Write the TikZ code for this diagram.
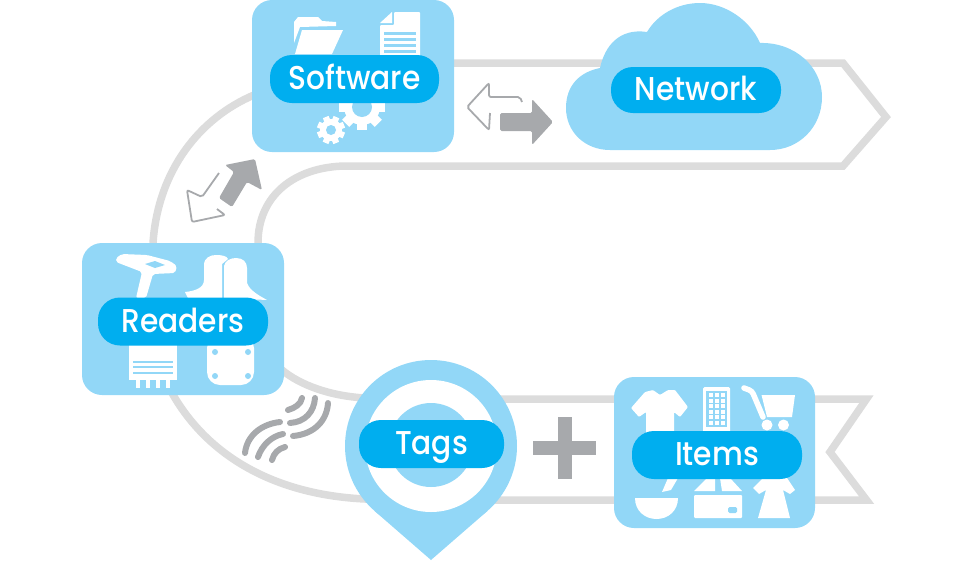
\documentclass[tikz,border=0pt]{standalone}
\usepackage{fontspec}
\setmainfont{Poppins Medium}[FakeStretch=0.9]
\definecolor{boxblue}{HTML}{92D7F7}
\definecolor{pillblue}{HTML}{00AEEF}
\definecolor{ribbongray}{HTML}{DCDCDC}
\definecolor{arrowgray}{HTML}{A7A9AC}
\tikzset{
	ribbon/.style={draw=ribbongray,line width=7.5pt,miter limit=10},
	iconbox/.style={fill=boxblue,rounded corners=20pt,minimum width=202pt,minimum height=152pt,inner sep=0pt},
	pill/.style={fill=pillblue,text=white,rounded corners=22pt,minimum height=48pt,inner sep=0pt,text height=24pt,text depth=3pt,font=\fontsize{33}{33}\selectfont},
	icon/.style={fill=white},
	cutout/.style={fill=boxblue},
	solidarrow/.style={fill=arrowgray,rounded corners=1.5pt},
	openarrow/.style={draw=arrowgray,line width=1.8pt,rounded corners=2pt},
	wavearc/.style={draw=arrowgray,line width=6pt,line cap=round}
}
\newcommand{\gearicon}[5]{%
	\foreach \a in {0,45,...,315}
		\fill[icon,rotate around={\a+#5:(#1,#2)}] (#1-#3*0.22,#2) rectangle (#1+#3*0.22,#2-#3);
	\fill[icon] (#1,#2) circle(#3*0.78);
	\fill[cutout] (#1,#2) circle(#4);
}
\begin{document}
\begin{tikzpicture}[x=1pt,y=-1pt]
	\useasboundingbox (0,0) rectangle (980,560);
	
	\draw[ribbon] (153,243) .. controls (158,170) and (200,118) .. (254,95)--(300,63)--(843,63)--(886,117)--(843,166)--(345,166) .. controls (295,167) and (258,195) .. (258,243);
	\draw[ribbon] (282,370) .. controls (300,385) and (330,396) .. (365,398)--(400,399)--(866.5,399)--(830,452)--(866.5,500)--(400,500)--(365,499) .. controls (280,495) and (210,460) .. (172,393);
	
	\node[iconbox] (softwarebox) at (353,76) {};
	\fill[icon] (294,43)--(294,22)--(298,17)--(318,17)--(322,21)--(336,22)--(336,26)--(300,27)--cycle;
	\fill[icon] (302,30)--(343,30)--(332,54)--(295,54)--cycle;
	\fill[icon] (380,23)--(392,23)--(392,12)--cycle;
	\fill[icon,rounded corners=1pt] (394,12)--(420,12)--(420,56)--(380,56)--(380,25)--(394,25)--cycle;
	\foreach \y in {32,38,44,50}
		\fill[cutout] (384,\y) rectangle (416,\y+3);
	\gearicon{362}{107}{23}{10}{0}
	\gearicon{331}{130}{14}{5}{22}
	
	\node[iconbox] (readersbox) at (183,319) {};
	\fill[icon,rounded corners=2pt] (116,258)--(122,254)--(147,255)--(170,261)--(177,266)--(175,273)--(153,274)--(146,298)--(136,298)--(142,272)--(116,262)--cycle;
	\fill[cutout] (145,264)--(155,261)--(165,265)--(155,268)--cycle;
	\fill[icon] (185,292) .. controls (195,291) and (204,288) .. (204,280)--(204,265) .. controls (204,258) and (210,255) .. (216,255) .. controls (222,255) and (227,256) .. (228,259)--(222,264)--(222,298)--(188,298)--cycle;
	\fill[icon] (224,298)--(224,266) .. controls (225,261) and (230,258) .. (236,258) .. controls (243,258) and (247,262) .. (247,268)--(247,283) .. controls (250,291) and (260,296) .. (267,300)--cycle;
	\fill[icon] (129,340) rectangle (177,380);
	\foreach \x in {138,148,158,168}
		\fill[icon] (\x-2,380) rectangle (\x+2,388);
	\foreach \y in {362,367,373}
		\fill[cutout] (133,\y-0.8) rectangle (173,\y+0.8);
	\fill[icon,rounded corners=13pt] (207,335) rectangle (254,385);
	\foreach \x/\y in {215/352,248/352,215/376,248/376}
		\fill[cutout] (\x,\y) circle(3);
	
	\node[iconbox,minimum width=201pt,minimum height=151pt] (itemsbox) at (714.5,452.5) {};
	\fill[icon,rounded corners=1pt] (631,408)--(645,392)--(653,390)--(660,395)--(668,390)--(675,390)--(688,407)--(680,417)--(674,412)--(674,435)--(646,435)--(646,412)--(639,417)--cycle;
	\fill[icon,rounded corners=1.5pt] (703,387) rectangle (730,435);
	\fill[cutout] (706,391) rectangle (727,427);
	\foreach \x in {708.5,714.5,720.5}
		\foreach \y in {393,398.5,404,409.5,415,420.5}
			\fill[icon] (\x,\y) rectangle (\x+4,\y+4);
	\draw[white,line width=5.5pt,line cap=round,rounded corners=3pt] (744,388)--(752,391)--(763,417);
	\fill[icon] (761.5,395)--(795,395)--(792,417)--(767,417)--cycle;
	\fill[icon] (767,425) circle(5.5) (783.5,425) circle(5.5);
	\fill[icon] (635,498)--(678,498) .. controls (678,511) and (668,519) .. (656.5,519) .. controls (645,519) and (635,511) .. (635,498)--cycle;
	\fill[icon] (662,492)--(668,478)--(678,478)--(671,490)--cycle;
	\fill[icon,rounded corners=1pt] (694,495) rectangle (742,518);
	\fill[cutout,rounded corners=1.5pt] (728,507) rectangle (737,513);
	\fill[icon] (694,491)--(707,478)--(715,478)--(715,491)--cycle;
	\fill[icon] (720,478)--(730,478)--(742,491)--(722,491)--cycle;
	\fill[icon] (753,488)--(763,478)--(787,478)--(795,490)--(790,494)--(783,490)--(790,518)--(758,518)--(766,490)--(759,494)--cycle;
	
	\fill[boxblue] (431,446) circle(86);
	\fill[boxblue] (374.6,511)--(431,560)--(487.4,511)--cycle;
	\fill[white] (431,446) circle(66);
	\fill[boxblue] (431,445) circle(42);
	
	\fill[boxblue] (610,150)--(770,150) .. controls (799,150) and (822,127) .. (822,97) .. controls (822,67) and (795,42) .. (760,43) .. controls (750,20) and (725,3) .. (700,3) .. controls (677,3) and (657,15) .. (647,32) .. controls (620,28) and (605,45) .. (600,68) .. controls (580,72) and (566,85) .. (566,108) .. controls (566,132) and (585,150) .. (610,150)--cycle;
	
	\node[pill,minimum width=169pt] (software) at (354.5,79) {Software};
	\node[pill,minimum width=170pt] (readers) at (183,321.5) {Readers};
	\node[pill,minimum width=170pt] (items) at (717,455) {Items};
	\node[pill,minimum width=145pt] (tags) at (431.5,444) {Tags};
	\node[pill,minimum width=170pt,minimum height=46pt] (network) at (696,90) {Network};
	
	\fill[arrowgray] (557.5,417) rectangle (572,479);
	\fill[arrowgray] (533,441) rectangle (596,455);
	
	\draw[openarrow] (522,102)--(520,97)--(489,97)--(489,83)--(467,107)--(489,130)--(490,113);
	\fill[solidarrow] (500,113)--(532,113)--(532,99)--(553,122)--(532,145)--(532,131)--(500,131)--cycle;
	\draw[openarrow] (219,173)--(202,197)--(187,190)--(192,222)--(225,215)--(217,209);
	\fill[solidarrow] (225,165)--(255,159)--(262,190)--(247,182)--(232,207)--(219,198)--(234,172)--cycle;
	
	\draw[wavearc] (245,453) .. controls (247,435) and (262,424) .. (280,422);
	\draw[wavearc] (258,457) .. controls (262,445) and (272,436) .. (283,434);
	\draw[wavearc] (272,460) .. controls (274,453) and (278,449) .. (285,447);
	\draw[wavearc] (288,410) .. controls (295,408) and (301,404) .. (302,398);
	\draw[wavearc] (290,423) .. controls (305,422) and (314,412) .. (315,398);
	\draw[wavearc] (293,436) .. controls (315,434) and (327,420) .. (328,403);
\end{tikzpicture}
\end{document}
